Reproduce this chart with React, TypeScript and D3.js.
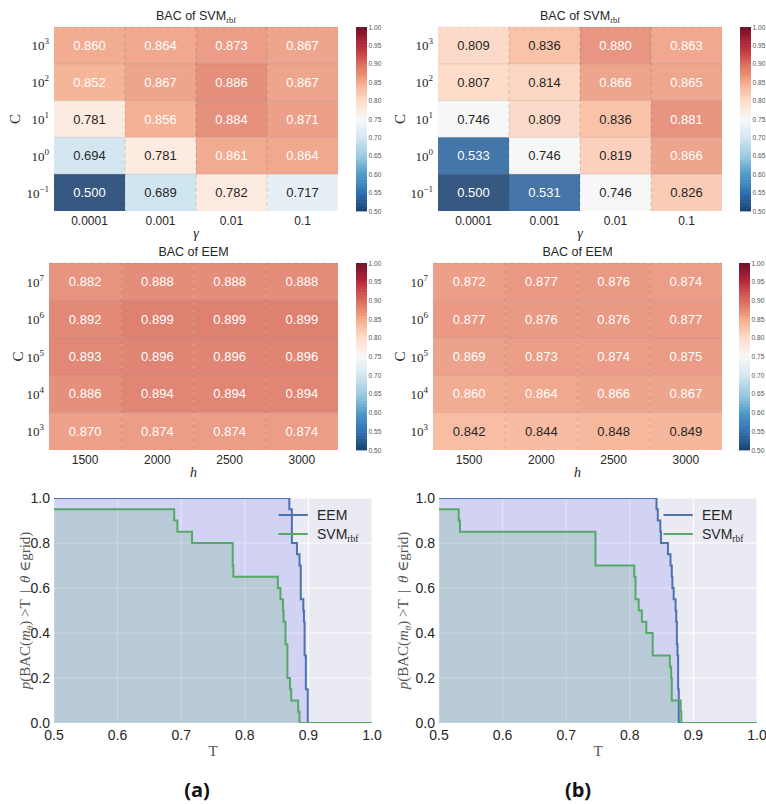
import React from 'react';
import * as d3 from 'd3';

// Grid-search results (rows top -> bottom, cols left -> right)
const gammaTicks = ['0.0001', '0.001', '0.01', '0.1'];
const hTicks = ['1500', '2000', '2500', '3000'];
const svmCExp = ['3', '2', '1', '0', '\u22121'];
const eemCExp = ['7', '6', '5', '4', '3'];

const svmA = [
  [0.860, 0.864, 0.873, 0.867],
  [0.852, 0.867, 0.886, 0.867],
  [0.781, 0.856, 0.884, 0.871],
  [0.694, 0.781, 0.861, 0.864],
  [0.500, 0.689, 0.782, 0.717],
];
const svmB = [
  [0.809, 0.836, 0.880, 0.863],
  [0.807, 0.814, 0.866, 0.865],
  [0.746, 0.809, 0.836, 0.881],
  [0.533, 0.746, 0.819, 0.866],
  [0.500, 0.531, 0.746, 0.826],
];
const eemA = [
  [0.882, 0.888, 0.888, 0.888],
  [0.892, 0.899, 0.899, 0.899],
  [0.893, 0.896, 0.896, 0.896],
  [0.886, 0.894, 0.894, 0.894],
  [0.870, 0.874, 0.874, 0.874],
];
const eemB = [
  [0.872, 0.877, 0.876, 0.874],
  [0.877, 0.876, 0.876, 0.877],
  [0.869, 0.873, 0.874, 0.875],
  [0.860, 0.864, 0.866, 0.867],
  [0.842, 0.844, 0.848, 0.849],
];

const cbarTicks = [0.5, 0.55, 0.6, 0.65, 0.7, 0.75, 0.8, 0.85, 0.9, 0.95, 1.0];
const tTicks = [0.5, 0.6, 0.7, 0.8, 0.9, 1.0];
const pTicks = [0, 0.2, 0.4, 0.6, 0.8, 1.0];

// matplotlib RdBu_r (linear through the ColorBrewer stops)
const rdbuR = ['#053061', '#2166ac', '#4393c3', '#92c5de', '#d1e5f0', '#f7f7f7',
  '#fddbc7', '#f4a582', '#d6604d', '#b2182b', '#67001f'];
const color = d3.scaleLinear<string>()
  .domain(d3.range(11).map(i => 0.5 + i * 0.05))
  .range(rdbuR)
  .interpolate(d3.interpolateRgb)
  .clamp(true);

const SANS = '"Liberation Sans", Arial, sans-serif';
const SERIF = '"Liberation Serif", "DejaVu Serif", serif';
const EEM_C = '#4C72B0';
const SVM_C = '#55A868';

function Rbf({ size }: { size: number }) {
  return <tspan fontFamily={SERIF} fontSize={size} dy={3}>rbf</tspan>;
}

function Heatmap({ left, right, top, bottom, values, rowExp, cols, svm, cbLeft, cX }: any) {
  const x = d3.scaleBand<number>().domain(d3.range(cols.length)).range([left, right]);
  const y = d3.scaleBand<number>().domain(d3.range(values.length)).range([top, bottom]);
  const cb = d3.scaleLinear().domain([0.5, 1]).range([bottom, top]);
  const levels = d3.range(0, 64);
  const cx = (left + right) / 2;
  const cy = (top + bottom) / 2;
  return (
    <g>
      <text x={cx} y={top - 7} textAnchor="middle" fontFamily={SANS} fontSize={12.5} fill="#262626">
        {svm ? <>BAC of SVM<Rbf size={8.5} /></> : 'BAC of EEM'}
      </text>
      {values.map((row: number[], i: number) => row.map((v, j) => (
        <g key={`${i}-${j}`}>
          <rect x={x(j)} y={y(i)} width={x.bandwidth()} height={y.bandwidth()}
            fill={color(v)} fillOpacity={0.8} />
          <text x={x(j)! + x.bandwidth() / 2} y={y(i)! + y.bandwidth() / 2 + 4.5}
            textAnchor="middle" fontFamily={SANS} fontSize={13}
            fill={Math.abs(v - 0.75) > 0.1 ? '#ffffff' : '#262626'}>
            {v.toFixed(3)}
          </text>
        </g>
      )))}
      {d3.range(1, cols.length).map(j => (
        <line key={'v' + j} x1={x(j)} x2={x(j)} y1={top} y2={bottom}
          stroke="#000" strokeOpacity={0.13} strokeDasharray="4,3" />
      ))}
      {d3.range(0, values.length).map(i => (
        <line key={'h' + i} x1={left} x2={right} y1={y(i)} y2={y(i)}
          stroke="#000" strokeOpacity={i === 0 ? 0.08 : 0.1} strokeDasharray={i === 0 ? '4,3' : undefined} />
      ))}
      {rowExp.map((e: string, i: number) => (
        <text key={'r' + i} x={left - 5} y={y(i)! + y.bandwidth() / 2 + 5} textAnchor="end"
          fontFamily={SERIF} fontSize={13} fill="#262626">
          10<tspan fontSize={9} dy={-6}>{e}</tspan>
        </text>
      ))}
      {cols.map((c: string, j: number) => (
        <text key={'c' + j} x={x(j)! + x.bandwidth() / 2} y={bottom + 14} textAnchor="middle"
          fontFamily={SANS} fontSize={12} fill="#262626">{c}</text>
      ))}
      <text x={cx} y={bottom + 27} textAnchor="middle" fontFamily={SERIF} fontStyle="italic"
        fontSize={14} fill="#262626">{svm ? '\u03b3' : 'h'}</text>
      <text transform={`translate(${cX},${cy}) rotate(-90)`} textAnchor="middle" dy={5}
        fontFamily={SERIF} fontSize={15} fill="#262626">C</text>
      {levels.map(k => {
        const v0 = 0.5 + (k / levels.length) * 0.5;
        const v1 = 0.5 + ((k + 1) / levels.length) * 0.5;
        return <rect key={'cb' + k} x={cbLeft} width={11} y={cb(v1)} height={cb(v0) - cb(v1) + 0.4}
          fill={color((v0 + v1) / 2)} fillOpacity={0.92} />;
      })}
      {cbarTicks.map(t => (
        <text key={'ct' + t} x={cbLeft + 12.5} y={cb(t) + 2.5} fontFamily={SANS} fontSize={6.6}
          fill="#555">{t.toFixed(2)}</text>
      ))}
    </g>
  );
}

// empirical p(BAC > T) over the grid cells
function survival(grid: number[][]) {
  const vals = grid.flat();
  const n = vals.length;
  const frac = (t: number) => vals.filter(v => v > t).length / n;
  const steps = Array.from(new Set(vals.filter(v => v > 0.5))).sort((a, b) => a - b);
  return [[0.5, frac(0.5)], ...steps.map(u => [u, frac(u)]), [1.0, 0]] as [number, number][];
}

function StepPlot({ id, left, right, top, bottom, eem, svm, yLabelX }: any) {
  const x = d3.scaleLinear().domain([0.5, 1]).range([left, right]);
  const y = d3.scaleLinear().domain([0, 1]).range([bottom, top]);
  const line = d3.line<[number, number]>().curve(d3.curveStepAfter).x(d => x(d[0])).y(d => y(d[1]));
  const area = d3.area<[number, number]>().curve(d3.curveStepAfter)
    .x(d => x(d[0])).y0(y(0)).y1(d => y(d[1]));
  const se = survival(eem);
  const ss = survival(svm);
  const w = right - left;
  const lx0 = left + 0.706 * w;
  const lx1 = left + 0.798 * w;
  return (
    <g>
      <defs>
        <clipPath id={id}><rect x={left} y={top} width={w} height={bottom - top} /></clipPath>
      </defs>
      <rect x={left} y={top} width={w} height={bottom - top} fill="#EAEAF2" />
      {tTicks.map(t => <line key={'gx' + t} x1={x(t)} x2={x(t)} y1={top} y2={bottom} stroke="#fff" strokeWidth={1} />)}
      {pTicks.map(t => <line key={'gy' + t} x1={left} x2={right} y1={y(t)} y2={y(t)} stroke="#fff" strokeWidth={1} />)}
      <g clipPath={`url(#${id})`}>
        <path d={area(se)!} fill="#0000ff" fillOpacity={0.1} />
        <path d={area(ss)!} fill={SVM_C} fillOpacity={0.2} />
        <path d={line(se)!} fill="none" stroke={EEM_C} strokeWidth={2} />
        <path d={line(ss)!} fill="none" stroke={SVM_C} strokeWidth={2} />
      </g>
      <line x1={lx0} x2={lx1} y1={top + 17} y2={top + 17} stroke={EEM_C} strokeWidth={2} />
      <line x1={lx0} x2={lx1} y1={top + 36} y2={top + 36} stroke={SVM_C} strokeWidth={2} />
      <text x={left + 0.827 * w} y={top + 22} fontFamily={SANS} fontSize={14} fill="#262626">EEM</text>
      <text x={left + 0.827 * w} y={top + 41} fontFamily={SANS} fontSize={14} fill="#262626">
        SVM<Rbf size={9.5} />
      </text>
      {tTicks.map(t => (
        <text key={'tx' + t} x={x(t)} y={bottom + 17} textAnchor="middle" fontFamily={SANS}
          fontSize={14} fill="#262626">{t.toFixed(1)}</text>
      ))}
      {pTicks.map(t => (
        <text key={'ty' + t} x={left - 4} y={y(t) + 5} textAnchor="end" fontFamily={SANS}
          fontSize={14} fill="#262626">{t.toFixed(1)}</text>
      ))}
      <text x={(left + right) / 2} y={bottom + 33} textAnchor="middle" fontFamily={SERIF}
        fontSize={15} fill="#555">T</text>
      <text transform={`translate(${yLabelX},${(top + bottom) / 2}) rotate(-90)`} textAnchor="middle"
        dy={5} fontFamily={SERIF} fontSize={15} fill="#555">
        <tspan fontStyle="italic">p</tspan>(BAC(<tspan fontStyle="italic">m</tspan>
        <tspan fontSize={9} fontStyle="italic" dy={3}>{'\u03b8'}</tspan>
        <tspan dy={-3}>) &gt;T  {'\u2009'}|{'\u2009'}  </tspan>
        <tspan fontStyle="italic">{'\u03b8'}</tspan> {'\u2208'}grid)
      </text>
    </g>
  );
}

export default function App() {
  return (
    <svg width={766} height={804} style={{ position: 'absolute', left: 0, top: 0, background: '#fff' }}>
      <Heatmap left={54} right={338} top={27} bottom={211} values={svmA} rowExp={svmCExp}
        cols={gammaTicks} svm cbLeft={356} cX={15} />
      <Heatmap left={438} right={722} top={27} bottom={211} values={svmB} rowExp={svmCExp}
        cols={gammaTicks} svm cbLeft={740} cX={400} />
      <Heatmap left={49} right={338} top={263} bottom={450} values={eemA} rowExp={eemCExp}
        cols={hTicks} svm={false} cbLeft={356} cX={18} />
      <Heatmap left={433} right={722} top={263} bottom={450} values={eemB} rowExp={eemCExp}
        cols={hTicks} svm={false} cbLeft={739} cX={400} />
      <StepPlot id="clipA" left={54} right={372} top={498} bottom={723} eem={eemA} svm={svmA} yLabelX={25} />
      <StepPlot id="clipB" left={439} right={757} top={498} bottom={723} eem={eemB} svm={svmB} yLabelX={403} />
      <text x={197} y={797} textAnchor="middle" fontFamily={'"Open Sans", "Noto Sans", sans-serif'}
        fontWeight="bold" fontSize={20} fill="#111">(a)</text>
      <text x={578} y={797} textAnchor="middle" fontFamily={'"Open Sans", "Noto Sans", sans-serif'}
        fontWeight="bold" fontSize={20} fill="#111">(b)</text>
    </svg>
  );
}
